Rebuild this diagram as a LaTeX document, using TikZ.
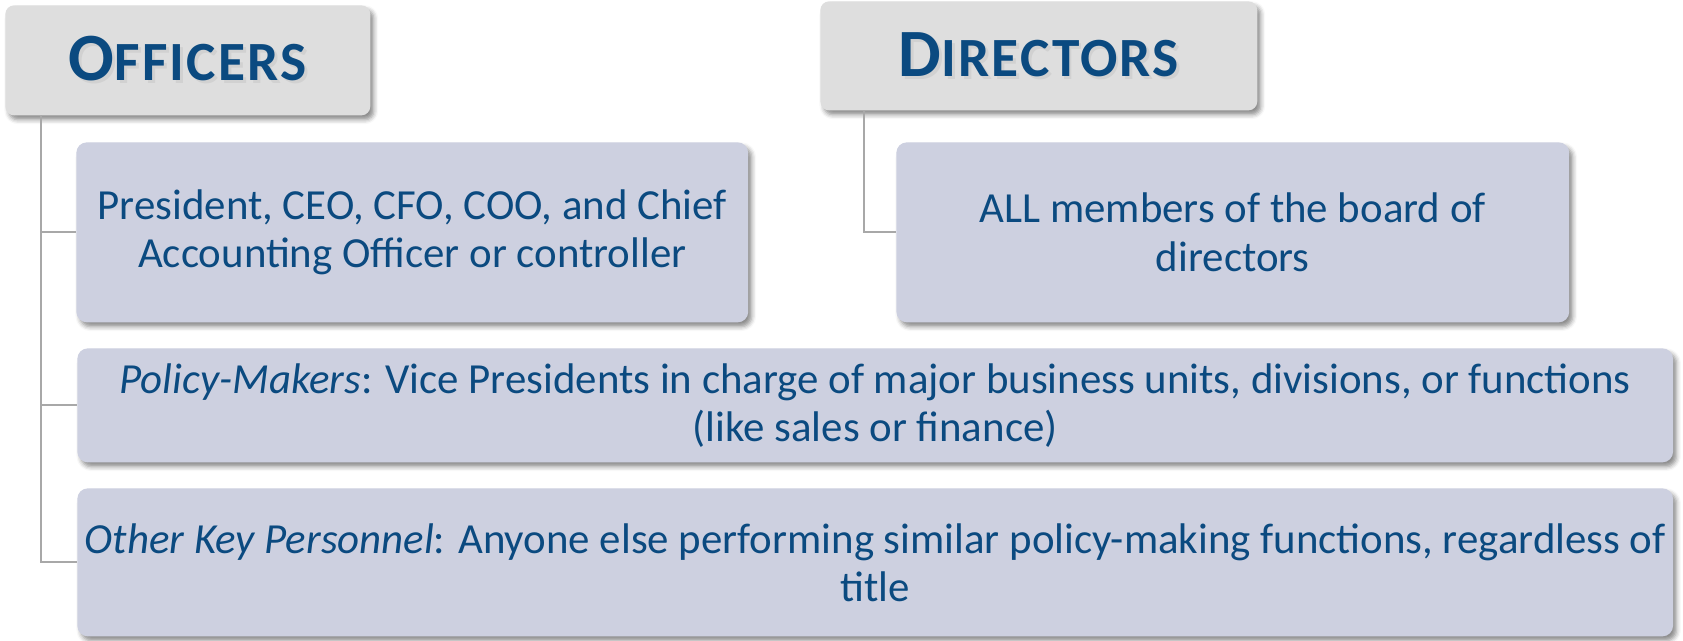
\documentclass[tikz,border=0pt]{standalone}
\usepackage{fontspec}
\setmainfont{Carlito}
\usepackage{xcolor}
\usepackage{tikz}
\usetikzlibrary{positioning,calc,shadows.blur}

\definecolor{headgray}{HTML}{DEDEDE}
\definecolor{itemfill}{HTML}{CDD0E0}
\definecolor{navy}{HTML}{0B4A80}
\definecolor{linkgray}{HTML}{A8A8A8}

% small-caps look for the two headings, with a faint text shadow
\newcommand{\capsword}[2]{{\fontsize{38.5}{40}\selectfont #1}{\fontsize{31.5}{40}\selectfont #2}}
\newcommand{\headcaps}[2]{%
  \makebox[0pt][l]{\hspace{1.6pt}\raisebox{-1.8pt}{\color{black!18}\capsword{#1}{#2}}}%
  \capsword{#1}{#2}}

\begin{document}
\begin{tikzpicture}[x=0.02cm, y=-0.02cm,
    head/.style={rectangle, rounded corners=5pt, fill=headgray, anchor=north west, inner sep=0pt,
        font=\bfseries\addfontfeatures{LetterSpace=4}, text=navy,
        blur shadow={shadow xshift=2pt, shadow yshift=-2.5pt, shadow blur radius=2.5pt, shadow opacity=45}},
    item/.style={rectangle, rounded corners=6pt, fill=itemfill, anchor=north west, inner sep=0pt,
        align=center, text=navy, font=\fontsize{24.4}{27.4}\selectfont,
        blur shadow={shadow xshift=2pt, shadow yshift=-2.5pt, shadow blur radius=2.5pt, shadow opacity=45}},
    link/.style={draw=linkgray, line width=1.1pt}
]
\useasboundingbox (0,0) rectangle (1683,640);

% Headings
\node[head, minimum width=7.3cm, minimum height=2.2cm] (officers) at (5,5) {\headcaps{O}{FFICERS}};
\node[head, minimum width=8.74cm, minimum height=2.18cm] (directors) at (820,1) {\headcaps{D}{IRECTORS}};

% Boxes
\node[item, minimum width=13.44cm, minimum height=3.6cm] (execs) at (76,142)
    {President, CEO, CFO, COO, and Chief\\Accounting Officer or controller};
\node[item, minimum width=13.46cm, minimum height=3.6cm] (board) at (896,142)
    {ALL members of the board of\\directors};
\node[item, minimum width=31.92cm, minimum height=2.28cm] (vps) at (77,348)
    {\textit{Policy-Makers}: Vice Presidents in charge of major business units, divisions, or functions\\(like sales or finance)};
\node[item, minimum width=31.92cm, minimum height=2.96cm] (others) at (77,488)
    {\textit{Other Key Personnel}: Anyone else performing similar policy-making functions, regardless of\\title};

% Connectors
\draw[link] ([xshift=0.72cm]officers.south west) |- (execs.west);
\draw[link] ([xshift=0.72cm]officers.south west) |- (vps.west);
\draw[link] ([xshift=0.72cm]officers.south west) |- (others.west);
\draw[link] ([xshift=0.88cm]directors.south west) |- (board.west);

\end{tikzpicture}
\end{document}
